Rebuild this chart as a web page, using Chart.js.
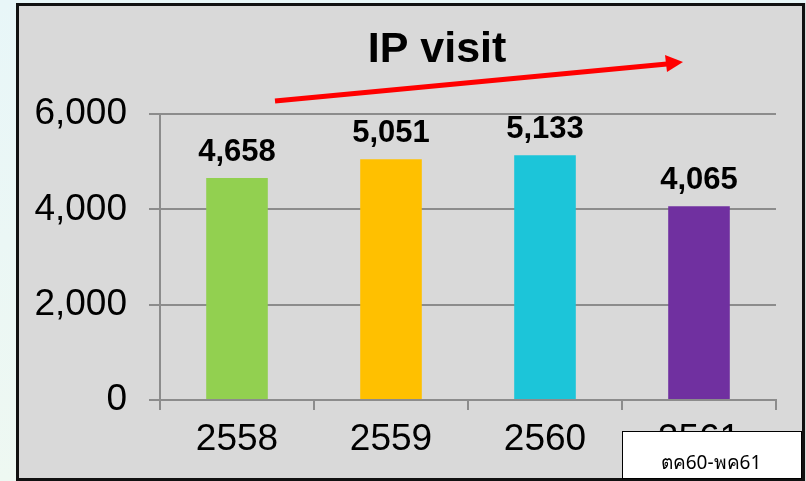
<!DOCTYPE html>
<html>
<head>
<meta charset="utf-8">
<script src="https://cdn.jsdelivr.net/npm/chart.js@4"></script>
<style>
  html, body { margin: 0; padding: 0; background: #eaf6f6; }
  #wrap { position: relative; width: 806px; height: 481px; }
</style>
</head>
<body>
<div id="wrap"><canvas id="ipChart" width="806" height="481"></canvas></div>
<script>
// values
const years = ['2558', '2559', '2560', '2561'];
const visits = [4658, 5051, 5133, 4065];
const barColors = ['#92D050', '#FFC000', '#1CC5D9', '#7030A0'];
const yTicks = [0, 2000, 4000, 6000];
const titleText = 'IP visit';
const noteText = 'ตค60-พค61';

const fmt = v => v.toLocaleString('en-US');

// panel background + border, title, arrow, value labels, note box
const decor = {
    id: 'decor',
    beforeDraw(chart) {
        const c = chart.ctx;
        c.save();
        const g = c.createLinearGradient(0, 0, 0, 481);
        g.addColorStop(0, '#e8f6f8');
        g.addColorStop(1, '#eef8f2');
        c.fillStyle = g;
        c.fillRect(0, 0, 806, 481);
        c.fillStyle = '#d9d9d9';
        c.fillRect(16, 3, 790, 478);
        c.strokeStyle = '#111';
        c.lineWidth = 3;
        c.strokeRect(17.5, 4.5, 786, 475);
        c.restore();
    },
    afterDatasetsDraw(chart) {
        const c = chart.ctx;
        const meta = chart.getDatasetMeta(0);
        c.save();
        c.fillStyle = '#000';
        c.font = 'bold 31px "Liberation Sans", Arial, sans-serif';
        c.textAlign = 'center';
        c.textBaseline = 'alphabetic';
        meta.data.forEach((bar, i) => {
            c.fillText(fmt(visits[i]), bar.x, bar.y - 17);
        });
        c.restore();
    },
    afterDraw(chart) {
        const c = chart.ctx;
        c.save();
        // title
        c.fillStyle = '#000';
        c.font = 'bold 43px "Liberation Sans", Arial, sans-serif';
        c.textAlign = 'center';
        c.textBaseline = 'middle';
        c.fillText(titleText, 437, 50);
        // red arrow
        c.strokeStyle = '#ff0000';
        c.fillStyle = '#ff0000';
        c.lineWidth = 5;
        c.beginPath();
        c.moveTo(275, 101);
        c.lineTo(667, 64);
        c.stroke();
        c.beginPath();
        c.moveTo(683, 62);
        c.lineTo(665, 55);
        c.lineTo(667, 72);
        c.closePath();
        c.fill();
        // note box
        c.fillStyle = '#fff';
        c.fillRect(622, 431, 180, 47);
        c.strokeStyle = '#000';
        c.lineWidth = 1;
        c.strokeRect(622.5, 431.5, 179, 47);
        c.fillStyle = '#000';
        c.font = '19px "Noto Sans", "DejaVu Sans", sans-serif';
        c.fillText(noteText, 711, 464);
        c.restore();
    }
};

const ctx = document.getElementById('ipChart').getContext('2d');
const ipChart = new Chart(ctx, {
    type: 'bar',
    data: {
        labels: years,
        datasets: [{
            data: visits,
            backgroundColor: barColors,
            borderWidth: 0,
            barPercentage: 0.4,
            categoryPercentage: 1
        }]
    },
    options: {
        responsive: false,
        animation: false,
        layout: { padding: { top: 114, right: 30, left: 0, bottom: 0 } },
        plugins: {
            legend: { display: false },
            tooltip: { enabled: false }
        },
        scales: {
            y: {
                min: 0,
                max: 6000,
                afterFit(scale) { scale.width = 160; },
                afterBuildTicks(scale) { scale.ticks = yTicks.map(v => ({ value: v })); },
                border: { display: true, color: '#8c8c8c', width: 2 },
                grid: { color: '#8c8c8c', lineWidth: 2, tickLength: 11 },
                ticks: {
                    color: '#000',
                    padding: 22,
                    font: { family: '"Liberation Sans", Arial, sans-serif', size: 37 },
                    callback: v => fmt(v)
                }
            },
            x: {
                afterFit(scale) { scale.height = 81; },
                border: { display: true, color: '#8c8c8c', width: 2 },
                grid: { drawOnChartArea: false, color: '#8c8c8c', lineWidth: 2, tickLength: 10 },
                ticks: {
                    color: '#000',
                    padding: 8,
                    font: { family: '"Liberation Sans", Arial, sans-serif', size: 37 }
                }
            }
        }
    },
    plugins: [decor]
});
</script>
</body>
</html>
